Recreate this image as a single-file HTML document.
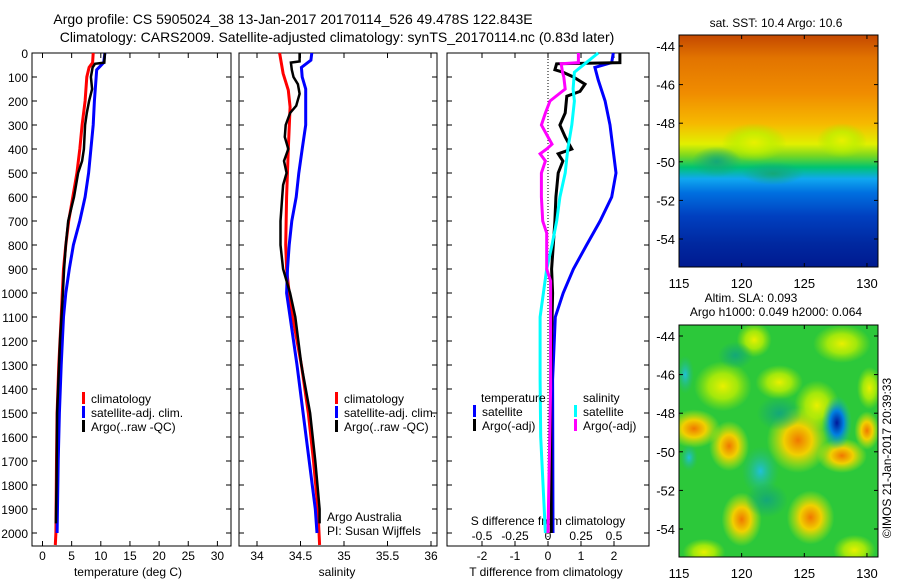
<!DOCTYPE html>
<html><head><meta charset="utf-8"><style>
html,body{margin:0;padding:0;background:#fff;}
svg{display:block;font-family:"Liberation Sans",sans-serif;}
</style></head><body>
<svg id="c" width="900" height="580" viewBox="0 0 900 580">
<defs>
<linearGradient id="sstGrad" x1="0" y1="0" x2="0" y2="1">
<stop offset="0" stop-color="#c44800"/><stop offset="0.1" stop-color="#e27400"/><stop offset="0.25" stop-color="#f08c00"/>
<stop offset="0.38" stop-color="#f6b800"/><stop offset="0.47" stop-color="#e2f000"/><stop offset="0.52" stop-color="#7ad820"/>
<stop offset="0.57" stop-color="#00c470"/><stop offset="0.62" stop-color="#10a8f0"/><stop offset="0.68" stop-color="#0070e0"/>
<stop offset="0.78" stop-color="#0040c0"/><stop offset="0.9" stop-color="#0028a0"/><stop offset="1" stop-color="#001a90"/>
</linearGradient>
<radialGradient id="gOrange"><stop offset="0" stop-color="#f07800"/><stop offset="0.45" stop-color="#f0d000"/><stop offset="1" stop-color="#d0f000" stop-opacity="0"/></radialGradient>
<radialGradient id="gYellow"><stop offset="0" stop-color="#e8f000"/><stop offset="0.5" stop-color="#c0f000" stop-opacity="0.8"/><stop offset="1" stop-color="#a0e800" stop-opacity="0"/></radialGradient>
<radialGradient id="gBlue"><stop offset="0" stop-color="#00189a"/><stop offset="0.45" stop-color="#0080e0"/><stop offset="1" stop-color="#20c0a0" stop-opacity="0"/></radialGradient>
<radialGradient id="gCyan"><stop offset="0" stop-color="#20c0d8"/><stop offset="1" stop-color="#20b880" stop-opacity="0"/></radialGradient>
<radialGradient id="gTeal"><stop offset="0" stop-color="#14a878"/><stop offset="1" stop-color="#14a878" stop-opacity="0"/></radialGradient>
<clipPath id="clipTop"><rect x="679" y="35" width="199" height="232"/></clipPath>
<clipPath id="clipBot"><rect x="679" y="325" width="199" height="232"/></clipPath>
</defs>
<g id="root"></g>
</svg>
<script>
// ---------- data ----------
const tempDepth   = [0,40,60,100,200,300,400,500,600,700,800,900,1000,1100,1300,1500,1700,2000,2050];
const tempClim    = [8.7,8.6,8.0,7.6,7.3,6.8,6.4,5.9,5.2,4.5,4.0,3.6,3.4,3.2,2.8,2.5,2.4,2.3,2.2];
const tempSatDepth= [0,40,70,200,300,400,500,600,700,800,900,1000,1100,1300,1500,1700,2000];
const tempSat     = [10.7,10.5,9.3,8.9,8.7,8.3,7.9,7.3,6.4,5.3,4.6,4.0,3.6,3.2,2.9,2.7,2.5];
const argoDepth   = [0,40,45,60,100,150,200,250,300,400,450,500,600,700,800,900,1000,1200,1500,1800,1960];
const tempArgo    = [10.7,10.6,9.0,8.6,8.3,8.5,8.0,7.6,7.3,7.1,6.8,6.1,5.4,4.4,4.0,3.7,3.5,3.0,2.5,2.4,2.3];

const salDepth    = [0,85,155,225,400,600,800,900,1000,1100,1300,1500,1700,1900,2050];
const salClim     = [34.26,34.30,34.36,34.38,34.36,34.34,34.33,34.34,34.37,34.41,34.51,34.59,34.65,34.70,34.72];
const salSatDepth = [0,30,60,100,150,300,400,500,600,700,800,900,1000,1100,1300,1500,1700,1900,2000];
const salSat      = [34.63,34.62,34.51,34.52,34.56,34.56,34.52,34.48,34.45,34.40,34.37,34.35,34.34,34.38,34.46,34.53,34.60,34.67,34.69];
const salArgoDepth= [0,35,40,70,100,130,170,220,250,300,350,400,450,500,550,600,700,800,900,1000,1100,1300,1500,1700,1900,1960];
const salArgo     = [34.49,34.49,34.39,34.40,34.42,34.47,34.49,34.45,34.38,34.33,34.32,34.36,34.31,34.34,34.30,34.29,34.27,34.27,34.30,34.38,34.44,34.51,34.61,34.67,34.72,34.72];

const dTSatDepth  = [0,40,60,112,200,300,400,500,600,700,800,900,1000,1100,1360,2000];
const dTSat       = [1.98,1.93,1.42,1.52,1.73,1.88,1.97,2.06,1.93,1.58,1.17,0.77,0.46,0.22,0.14,0.15];
const dTArgoDepth = [0,40,45,70,80,100,130,160,180,250,300,350,400,420,450,500,600,700,800,900,1000,1400,2000];
const dTArgo      = [2.18,2.18,0.26,0.21,0.45,0.77,1.12,0.97,0.57,0.52,0.36,0.52,0.72,0.31,0.45,0.31,0.24,0.21,0.16,0.11,0.14,0.08,0.1];
const dSSatDepth  = [0,40,80,150,200,300,400,500,600,700,800,900,1000,1100,1360,1600,2000];
const dSSat       = [0.38,0.29,0.20,0.19,0.20,0.18,0.15,0.13,0.09,0.066,0.03,-0.01,-0.035,-0.06,-0.06,-0.055,-0.02];
const dSArgoDepth = [0,40,45,80,100,150,200,250,300,350,380,400,420,450,500,600,700,750,900,950,1400,2000];
const dSArgo      = [0.23,0.23,0.10,0.11,0.12,0.13,0.015,-0.02,-0.05,0.0,0.03,-0.01,-0.06,-0.02,-0.05,-0.05,-0.04,-0.01,-0.01,0.02,0.02,0.0];

const depthTicks = [0,100,200,300,400,500,600,700,800,900,1000,1100,1200,1300,1400,1500,1600,1700,1800,1900,2000];
const tempTicks  = [0,5,10,15,20,25,30];
const salTicks   = [34,34.5,35,35.5,36];
const dTTicks    = [-2,-1,0,1,2];
const dSTicks    = [-0.5,-0.25,0,0.25,0.5];
const latTicks   = [-44,-46,-48,-50,-52,-54];
const lonTicks   = [115,120,125,130];

// ---------- axis functions ----------
const yD = d => 53 + d*0.24;
const xT = t => 42.5 + t*5.83;
const xS = s => 257 + (s-34)*87;
const xDT = v => 548 + v*33;
const xDS = v => 548 + v*132;
const xLon = l => 679 + (l-115)*12.53;
const yLatTop = l => 46 + (-44-l)*19.3;
const yLatBot = l => 336 + (-44-l)*19.3;

const NS='http://www.w3.org/2000/svg';
const root=document.getElementById('root');
function mk(tag,attrs,parent){const e=document.createElementNS(NS,tag);for(const k in attrs)e.setAttribute(k,attrs[k]);(parent||root).appendChild(e);return e;}
function txt(s,x,y,size,anchor,parent){const e=mk('text',{x:x,y:y,'font-size':size,'text-anchor':anchor||'middle',fill:'#000'},parent);e.textContent=s;return e;}
function line(depths,vals,xf,color,w,name){
  const pts=depths.map((d,i)=>xf(vals[i]).toFixed(1)+','+yD(d).toFixed(1)).join(' ');
  const p=mk('polyline',{points:pts,fill:'none',stroke:color,'stroke-width':w,'stroke-linejoin':'miter'});
  
  
  return p;
}

// ---------- titles ----------
let t1=txt('Argo profile: CS 5905024_38 13-Jan-2017 20170114_526 49.478S 122.843E',293,24,14);


let t2=txt('Climatology: CARS2009. Satellite-adjusted climatology: synTS_20170114.nc (0.83d later)',337,42,14);



// ---------- panels ----------
function panel(x0,x1,name){
  const g=mk('g',{});
  
  
  mk('rect',{x:x0,y:53,width:x1-x0,height:493,fill:'#fff',stroke:'#000','stroke-width':1},g);
  depthTicks.forEach(d=>{
    mk('line',{x1:x0,x2:x0+5,y1:yD(d),y2:yD(d),stroke:'#000'},g);
    mk('line',{x1:x1,x2:x1-5,y1:yD(d),y2:yD(d),stroke:'#000'},g);
  });
  return g;
}
const pT=panel(32,231,'temperature-panel');
const pS=panel(239,437,'salinity-panel');
const pD=panel(447,649,'difference-panel');

depthTicks.forEach(d=>{
  const e=txt(String(d),28,yD(d)+5,12,'end');
  
  
});
tempTicks.forEach(t=>{
  mk('line',{x1:xT(t),x2:xT(t),y1:546,y2:541,stroke:'#000'});
  mk('line',{x1:xT(t),x2:xT(t),y1:53,y2:58,stroke:'#000'});
  const e=txt(String(t),xT(t),560,12);
  
  
});
salTicks.forEach(s=>{
  mk('line',{x1:xS(s),x2:xS(s),y1:546,y2:541,stroke:'#000'});
  mk('line',{x1:xS(s),x2:xS(s),y1:53,y2:58,stroke:'#000'});
  const e=txt(String(s),xS(s),560,12);
  
  
});
dTTicks.forEach(v=>{
  mk('line',{x1:xDT(v),x2:xDT(v),y1:546,y2:541,stroke:'#000'});
  mk('line',{x1:xDT(v),x2:xDT(v),y1:53,y2:58,stroke:'#000'});
  const e=txt(String(v),xDT(v),560,12);
  
  
});
dSTicks.forEach(v=>{
  const e=txt(String(v),xDS(v),540,12);
  
  
});
let xl=txt('temperature (deg C)',128,576,12);


xl=txt('salinity',337,576,12);


xl=txt('T difference from climatology',546,576,12);


xl=txt('S difference from climatology',548,525,12);



// zero line
const zl=mk('line',{x1:xDT(0),x2:xDT(0),y1:53,y2:546,stroke:'#000','stroke-dasharray':'1,2'});



// series
line(tempDepth,tempClim,xT,'#ff0000',3,'temp-climatology-line');
line(tempSatDepth,tempSat,xT,'#0000ff',3,'temp-satellite-line');
line(argoDepth,tempArgo,xT,'#000',2.5,'temp-argo-line');
line(salDepth,salClim,xS,'#ff0000',3,'sal-climatology-line');
line(salSatDepth,salSat,xS,'#0000ff',3,'sal-satellite-line');
line(salArgoDepth,salArgo,xS,'#000',2.5,'sal-argo-line');
line(dTSatDepth,dTSat,xDT,'#0000ff',3,'t-diff-satellite-line');
line(dTArgoDepth,dTArgo,xDT,'#000',3,'t-diff-argo-line');
line(dSSatDepth,dSSat,xDS,'#00ffff',3,'s-diff-satellite-line');
line(dSArgoDepth,dSArgo,xDS,'#ff00ff',3,'s-diff-argo-line');

// legends
function leg(x,y,color,label,name){
  const g=mk('g',{});
  
  
  mk('rect',{x:x-9,y:y-11,width:3,height:12,fill:color},g);
  txt(label,x,y,12,'start',g);
}
leg(91,403,'#ff0000','climatology','temp-legend-climatology');
leg(91,417,'#0000ff','satellite-adj. clim.','temp-legend-satellite');
leg(91,431,'#000','Argo(..raw -QC)','temp-legend-argo');
leg(344,403,'#ff0000','climatology','sal-legend-climatology');
leg(344,417,'#0000ff','satellite-adj. clim.','sal-legend-satellite');
leg(344,431,'#000','Argo(..raw -QC)','sal-legend-argo');
let lt=txt('temperature',481,402,12,'start');


lt=txt('salinity',583,402,12,'start');


leg(482,416,'#0000ff','satellite','diff-legend-t-satellite');
leg(482,430,'#000','Argo(-adj)','diff-legend-t-argo');
leg(583,416,'#00ffff','satellite','diff-legend-s-satellite');
leg(583,430,'#ff00ff','Argo(-adj)','diff-legend-s-argo');
let ai=txt('Argo Australia',327,521,12,'start');


ai=txt('PI: Susan Wijffels',327,535,12,'start');



// ---------- maps ----------
const sstBlobs = [[121,-49,2.6,1.0,'gYellow'],[128,-48.9,2.0,0.9,'gYellow'],[118,-50,2.0,0.8,'gTeal'],[122.5,-50.6,2.5,0.6,'gTeal']];
const slaBlobs = [
 [118.5,-46.6,2.3,1.3,'gYellow'],[128,-44.4,2.3,1.0,'gYellow'],[123,-46.4,1.9,0.9,'gYellow'],[130.2,-46.7,1.0,1.1,'gYellow'],
 [126,-47.6,1.8,1.3,'gYellow'],[117,-55.2,1.7,0.7,'gYellow'],[129,-55.1,1.7,0.8,'gYellow'],[121,-44.2,1.4,0.9,'gYellow'],
 [116.2,-48.8,2.1,1.0,'gOrange'],[119,-49.7,1.6,1.3,'gOrange'],[124.5,-49.4,2.5,1.7,'gOrange'],[128,-50.2,2.0,0.9,'gOrange'],
 [120,-53.5,1.6,1.4,'gOrange'],[125.5,-53.4,1.9,1.4,'gOrange'],[130,-48.9,1.0,1.0,'gOrange'],
 [119.5,-45,1.4,0.7,'gTeal'],[121.5,-51,1.5,1.3,'gCyan'],[115.5,-46,0.7,1.0,'gCyan'],[115.8,-50.3,0.7,0.7,'gCyan'],
 [123,-48,1.8,0.9,'gTeal'],[122,-52.5,1.7,0.9,'gTeal'],[127.6,-48.5,1.2,1.4,'gBlue']
];
function drawMap(yLat,top,clip,name,bg,blobs){
  const g=mk('g',{});
  
  
  const gc=mk('g',{'clip-path':'url(#'+clip+')'},g);
  mk('rect',{x:679,y:top,width:199,height:232,fill:bg},gc);
  blobs.forEach(b=>{
    const e=mk('ellipse',{cx:xLon(b[0]),cy:yLat(b[1]),rx:b[2]*12.53,ry:b[3]*19.3,fill:'url(#'+b[4]+')'},gc);
    
    
  });
  mk('rect',{x:679,y:top,width:199,height:232,fill:'none',stroke:'#000'},g);
  latTicks.forEach(l=>{
    mk('line',{x1:679,x2:683,y1:yLat(l),y2:yLat(l),stroke:'#000'},g);
    mk('line',{x1:878,x2:874,y1:yLat(l),y2:yLat(l),stroke:'#000'},g);
    txt(String(l),675,yLat(l)+5,13,'end',g);
  });
  lonTicks.forEach(l=>{
    mk('line',{x1:xLon(l),x2:xLon(l),y1:top+232,y2:top+228,stroke:'#000'},g);
    mk('line',{x1:xLon(l),x2:xLon(l),y1:top,y2:top+4,stroke:'#000'},g);
    txt(String(l),xLon(l),top+253,13,'middle',g);
  });
}
drawMap(yLatTop,35,'clipTop','sst-map','url(#sstGrad)',sstBlobs);
drawMap(yLatBot,325,'clipBot','sla-map','#2cc83a',slaBlobs);
let mt=txt('sat. SST: 10.4  Argo: 10.6',776,27,12);


mt=txt('Altim. SLA: 0.093',751,302,12);


mt=txt('Argo h1000: 0.049 h2000: 0.064',776,316,12);


const cr=mk('text',{x:0,y:0,'font-size':12,'text-anchor':'middle',transform:'translate(891,458) rotate(-90)'});
cr.textContent='©IMOS 21-Jan-2017 20:39:33';


</script>
</body></html>
